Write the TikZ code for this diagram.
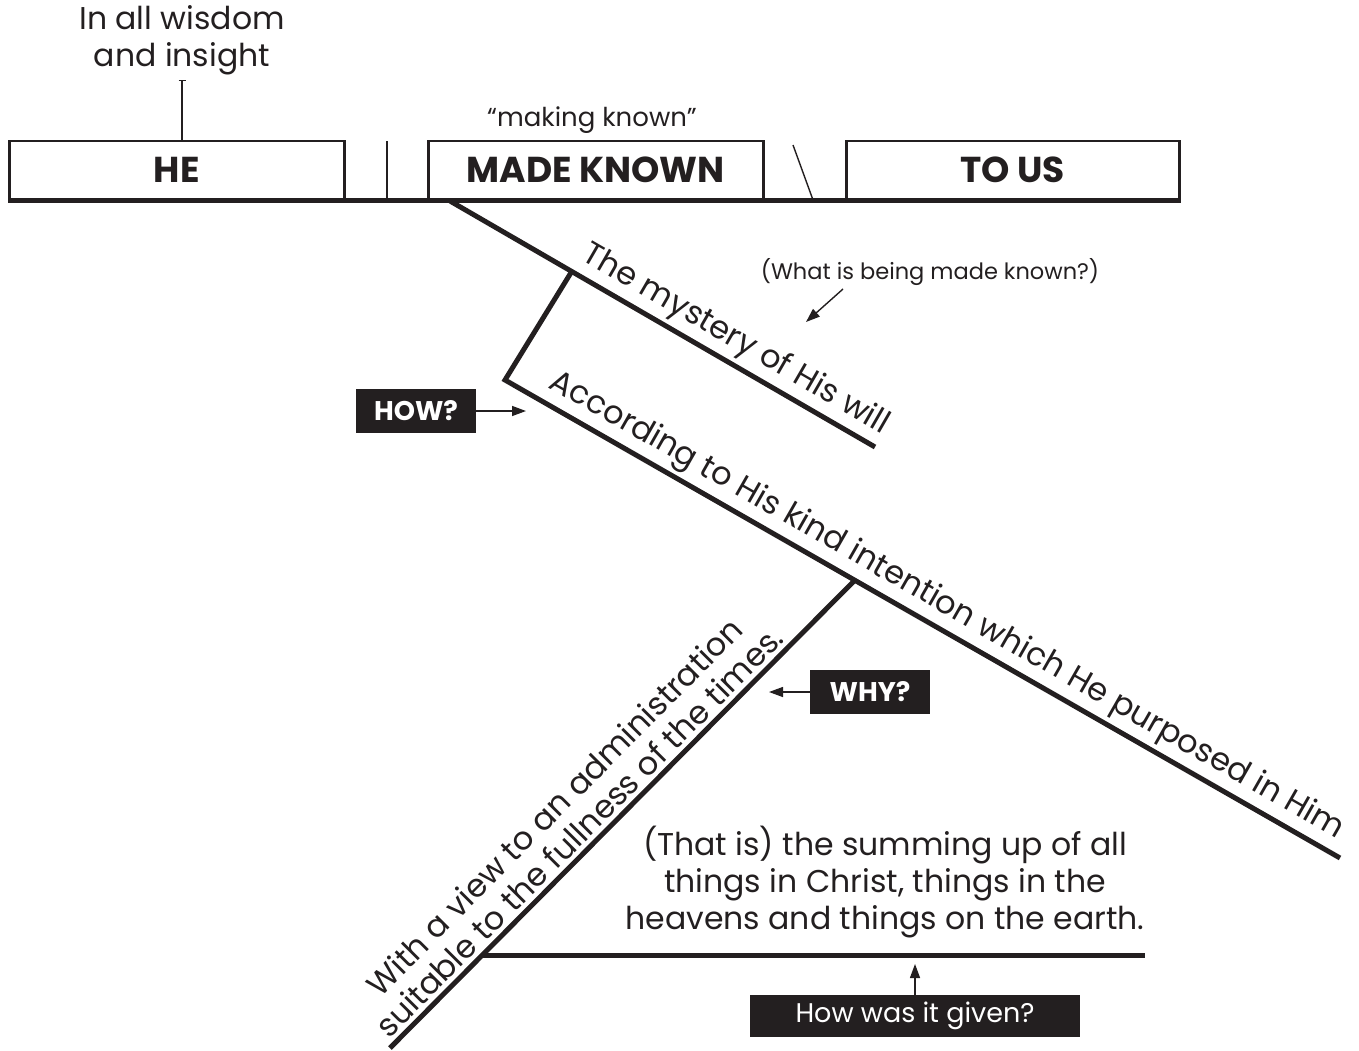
\documentclass[tikz,border=0pt]{standalone}
\usepackage{fontspec}
\setmainfont{Poppins}
\usetikzlibrary{arrows.meta}
\definecolor{ink}{HTML}{231F20}

\begin{document}
\begin{tikzpicture}[x=1pt,y=-1pt,
    heavy/.style={draw=ink,line width=5pt},
    hair/.style={draw=ink,line width=1.4pt},
    pointer/.style={hair,-{Triangle[length=14pt,width=10pt]}},
    wordbox/.style={draw=ink,line width=2.5pt,anchor=south west,minimum height=58pt,
      text=ink,font=\fontsize{36}{40}\selectfont\bfseries},
    lbl/.style={text=ink,align=center,font=\fontsize{31.5}{37}\selectfont},
    note/.style={text=ink,font=\fontsize{22.5}{26}\selectfont},
    diag/.style={text=ink,sloped,above,inner sep=4pt,align=center,font=\fontsize{32}{35}\selectfont},
    tag/.style={fill=ink,text=white,minimum height=44pt,inner sep=0pt}]
  \useasboundingbox (0,0) rectangle (1359,1050);

  % top line with subject, verb and object
  \node[wordbox,minimum width=335pt] (he) at (8,200) {HE};
  \node[wordbox,minimum width=335pt] (made) at (427,200) {MADE KNOWN};
  \node[wordbox,minimum width=333pt] (tous) at (845,200) {TO US};
  \coordinate (b0) at (8,200);
  \coordinate (b1) at (1181,200);
  \draw[heavy] (b0) -- (b1);
  \draw[hair] (387,141) -- (387,200);
  \draw[hair] (793,145) -- (813,200);

  \node[lbl] (wisdom) at (182,40) {In all wisdom\\and insight};
  \coordinate (tick) at (182,80);
  \draw[hair,{Bar[width=7pt]}-] (tick) -- (tick |- he.north);
  \node[note,font=\fontsize{26}{30}\selectfont] (mk) at (592,120) {“making known”};

  % direct object
  \coordinate (d0) at (450,201);
  \coordinate (d1) at (875,447);
  \draw[heavy] (d0) -- node[diag,pos=0.645] {The mystery of His will} (d1);

  % how?
  \coordinate (k0) at (572,271);
  \coordinate (k1) at (505,380);
  \coordinate (a1) at (1340,858);
  \draw[heavy,line join=miter] (k0) -- (k1) -- node[diag,pos=0.515] {According to His kind intention which He purposed in Him} (a1);

  % why?
  \coordinate (w0) at (855,580);
  \coordinate (w1) at (390,1048);
  \draw[heavy] (w1) -- node[diag,pos=0.435] {With a view to an administration\\suitable to the fullness of the times.} (w0);

  \coordinate (h0) at (482,955);
  \coordinate (h1) at (1145,955);
  \draw[heavy] (h0) -- (h1);
  \node[lbl,anchor=south] (sum) at (885,942) {(That is) the summing up of all\\things in Christ, things in the\\heavens and things on the earth.};

  % questions
  \node[note] (what) at (930,272) {(What is being made known?)};
  \coordinate (wa) at (843,289);
  \coordinate (wb) at (806,322);
  \draw[pointer] (wa) -- (wb);

  \node[tag,minimum width=120pt,font=\fontsize{27}{30}\selectfont\bfseries] (how) at (416,411) {HOW?};
  \coordinate (howend) at (526,411);
  \draw[pointer] (how.east) -- (howend);

  \node[tag,minimum width=120pt,font=\fontsize{27}{30}\selectfont\bfseries] (why) at (870,692) {WHY?};
  \coordinate (whyend) at (769,692);
  \draw[pointer] (why.west) -- (whyend);

  \node[tag,minimum width=330pt,minimum height=42pt,font=\fontsize{27}{30}\selectfont] (given) at (915,1016) {How was it given?};
  \coordinate (givenend) at (915,964);
  \draw[pointer] (given.north) -- (givenend);
\end{tikzpicture}
\end{document}
